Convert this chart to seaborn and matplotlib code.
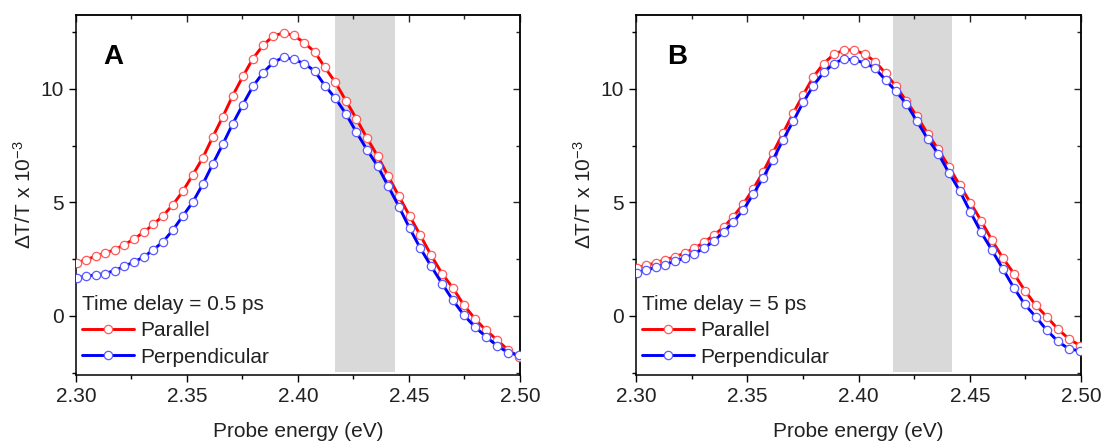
import numpy as np
import pandas as pd
import matplotlib
matplotlib.use("Agg")
import matplotlib.pyplot as plt
from matplotlib.ticker import MultipleLocator, FormatStrFormatter
import seaborn as sns

# ---- data (probe energy in eV, dT/T x 1e-3) ----
energy = [2.30026, 2.30454, 2.30883, 2.31313, 2.31746, 2.32180, 2.32615, 2.33053,
          2.33492, 2.33932, 2.34375, 2.34818, 2.35264, 2.35711, 2.36160, 2.36611,
          2.37063, 2.37517, 2.37973, 2.38431, 2.38890, 2.39351, 2.39814, 2.40279,
          2.40746, 2.41214, 2.41684, 2.42156, 2.42630, 2.43106, 2.43584, 2.44063,
          2.44544, 2.45028, 2.45513, 2.46000, 2.46489, 2.46980, 2.47473, 2.47968,
          2.48465, 2.48964, 2.49465, 2.49968]

a_parallel = [2.34, 2.48, 2.63, 2.77, 2.92, 3.14, 3.39, 3.69, 4.04, 4.42, 4.91,
              5.50, 6.22, 6.96, 7.88, 8.77, 9.71, 10.55, 11.34, 11.93, 12.34,
              12.47, 12.36, 12.04, 11.64, 10.95, 10.29, 9.49, 8.69, 7.84, 7.05,
              6.16, 5.28, 4.41, 3.55, 2.67, 1.87, 1.23, 0.48, -0.12, -0.63,
              -1.05, -1.50, -1.82]
a_perpendicular = [1.68, 1.75, 1.81, 1.87, 2.00, 2.19, 2.38, 2.60, 2.92, 3.28,
                   3.80, 4.41, 5.02, 5.80, 6.69, 7.56, 8.47, 9.31, 10.12, 10.72,
                   11.17, 11.40, 11.30, 11.12, 10.80, 10.15, 9.59, 8.91, 8.10,
                   7.33, 6.61, 5.72, 4.82, 3.87, 2.98, 2.19, 1.43, 0.69, 0.04,
                   -0.48, -0.91, -1.31, -1.61, -1.72]
b_parallel = [2.12, 2.23, 2.34, 2.48, 2.60, 2.77, 2.98, 3.24, 3.56, 3.90, 4.38,
              4.93, 5.59, 6.34, 7.20, 8.06, 8.93, 9.75, 10.54, 11.12, 11.53,
              11.71, 11.72, 11.53, 11.21, 10.69, 10.12, 9.46, 8.79, 8.03, 7.34,
              6.57, 5.77, 4.99, 4.19, 3.33, 2.55, 1.87, 1.12, 0.47, -0.04,
              -0.58, -1.02, -1.31]
b_perpendicular = [1.90, 2.01, 2.15, 2.26, 2.41, 2.55, 2.74, 2.98, 3.30, 3.69,
                   4.15, 4.67, 5.36, 6.09, 6.89, 7.77, 8.58, 9.42, 10.15, 10.73,
                   11.12, 11.33, 11.27, 11.15, 10.91, 10.39, 9.90, 9.34, 8.57,
                   7.81, 7.15, 6.31, 5.52, 4.58, 3.68, 2.89, 2.07, 1.24, 0.51,
                   -0.04, -0.63, -1.12, -1.46, -1.53]

panel_letters = ["A", "B"]
delays = ["Time delay = 0.5 ps", "Time delay = 5 ps"]
series_names = ["Parallel", "Perpendicular"]
bands = [(2.4165, 2.4437), (2.4153, 2.4422)]
xticks = [2.30, 2.35, 2.40, 2.45, 2.50]
yticks = [0, 5, 10]

sns.set_theme(style="ticks")
plt.rcParams["font.family"] = ["Liberation Sans", "DejaVu Sans"]
plt.rcParams["mathtext.fontset"] = "custom"
plt.rcParams["mathtext.rm"] = "Liberation Sans"
plt.rcParams["mathtext.it"] = "Liberation Sans:italic"
plt.rcParams["axes.linewidth"] = 1.1

FS = 15
fig = plt.figure(figsize=(11.04, 4.42), dpi=100)
positions = [[0.0688, 0.1516, 0.4022, 0.8145], [0.5761, 0.1516, 0.4031, 0.8145]]
data = [(a_parallel, a_perpendicular), (b_parallel, b_perpendicular)]
colors = ["#ff0000", "#0000ff"]
edge_colors = ["#ff5a5a", "#5a5aff"]
text_color = "#222222"

for i in range(2):
    ax = fig.add_axes(positions[i])
    ax.axvspan(bands[i][0], bands[i][1], ymin=0.008, ymax=1.0,
               color="#d9d9d9", lw=0, zorder=0)
    for j, name in enumerate(series_names):
        df = pd.DataFrame({"energy": energy, "signal": data[i][j]})
        sns.lineplot(data=df, x="energy", y="signal", ax=ax, sort=False,
                     color=colors[j], lw=2.1, marker="o", ms=6,
                     mfc="white", mec=edge_colors[j], mew=0.9,
                     label=name, zorder=3)
    ax.set_xlim(2.30, 2.50)
    ax.set_ylim(-2.6, 13.26)
    ax.set_xticks(xticks)
    ax.set_yticks(yticks)
    ax.xaxis.set_minor_locator(MultipleLocator(0.025))
    ax.yaxis.set_minor_locator(MultipleLocator(2.5))
    ax.xaxis.set_major_formatter(FormatStrFormatter("%.2f"))
    ax.tick_params(axis="both", which="major", direction="out", length=5,
                   width=1.0, labelsize=FS, colors="black",
                   labelcolor=text_color, pad=4)
    ax.tick_params(axis="both", which="minor", direction="out", length=3,
                   width=1.0, colors="black")
    # top and right ticks pointing inward
    secx = ax.secondary_xaxis("top")
    secx.set_xticks(xticks)
    secx.xaxis.set_minor_locator(MultipleLocator(0.025))
    secx.tick_params(axis="x", which="major", direction="in", length=5,
                     width=1.0, labeltop=False)
    secx.tick_params(axis="x", which="minor", direction="in", length=3,
                     width=1.0)
    secy = ax.secondary_yaxis("right")
    secy.set_yticks(yticks)
    secy.yaxis.set_minor_locator(MultipleLocator(2.5))
    secy.tick_params(axis="y", which="major", direction="in", length=5,
                     width=1.0, labelright=False)
    secy.tick_params(axis="y", which="minor", direction="in", length=3,
                     width=1.0)
    for s in ax.spines.values():
        s.set_color("black")
        s.set_linewidth(1.1)
    ax.set_xlabel("Probe energy (eV)", fontsize=FS, color=text_color, labelpad=11)
    ax.set_ylabel(r"$\Delta$T/T x 10$^{-3}$", fontsize=FS, color=text_color,
                  labelpad=4)
    ax.text(0.062 if i == 0 else 0.07, 0.883, panel_letters[i],
            transform=ax.transAxes, fontsize=20, fontweight="bold",
            ha="left", va="center", color="black")
    leg = ax.legend(title=delays[i], loc="lower left",
                    bbox_to_anchor=(0.008, 0.017), frameon=False, fontsize=FS,
                    title_fontsize=FS, alignment="left", handlelength=2.5,
                    handletextpad=0.3, labelspacing=0.35, borderpad=0.1,
                    borderaxespad=0.0, numpoints=1)
    leg.get_title().set_color(text_color)
    for t in leg.get_texts():
        t.set_color(text_color)

fig.savefig("out.png", dpi=100)
